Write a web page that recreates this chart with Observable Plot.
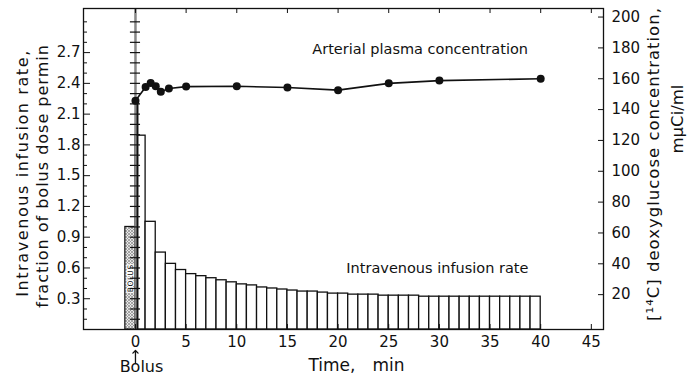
<!DOCTYPE html>
<html><head><meta charset="utf-8">
<script src="https://cdn.jsdelivr.net/npm/d3@7"></script>
<script src="https://cdn.jsdelivr.net/npm/@observablehq/plot@0.6"></script>
<style>
body{margin:0;background:#fff;}
svg text{font-family:"DejaVu Sans",sans-serif;}
</style></head><body><div id="chart"></div>
<script>
// ---- data ----
const barStart = [0,1,2,3,4,5,6,7,8,9,10,11,12,13,14,15,16,17,18,19,20,21,22,23,24,25,26,27,28,29,30,31,32,33,34,35,36,37,38,39];
const infusionRate = [1.89,1.05,0.75,0.64,0.58,0.54,0.52,0.50,0.48,0.46,0.44,0.43,0.41,0.40,0.39,0.38,0.37,0.37,0.36,0.35,0.35,0.34,0.34,0.34,0.33,0.33,0.33,0.33,0.32,0.32,0.32,0.32,0.32,0.32,0.32,0.32,0.32,0.32,0.32,0.32];
const bolusStart = [-1];
const bolusEnd = [0];
const bolusValue = [1.0];
const plasmaTime = [0,1,1.5,2,2.5,3.3,5,10,15,20,25,30,40];
const plasmaConc = [145.7,154.7,157.2,155.1,151.5,153.7,154.9,155.1,154.3,152.6,157.0,158.8,160.0];
const xTicks = [0,5,10,15,20,25,30,35,40,45];
const leftTicks = [0.3,0.6,0.9,1.2,1.5,1.8,2.1,2.4,2.7];
const leftMinor = [0.1,0.2,0.4,0.5,0.7,0.8,1.0,1.1,1.3,1.4,1.6,1.7,1.9,2.0,2.2,2.3,2.5,2.6,2.8,2.9,3.0];
const rulerTicks = [0.1,0.2,0.3,0.4,0.5,0.6,0.7,0.8,0.9,1.0,1.1,1.2,1.3,1.4,1.5,1.6,1.7,1.8,1.9,2.0,2.1,2.2,2.3,2.4,2.5,2.6,2.7,2.8,2.9,3.0];
const rightTicks = [20,40,60,80,100,120,140,160,180,200];
const noteText = ["Arterial plasma concentration","Intravenous infusion rate"];
const noteX = [28.1, 29.8];
const noteY = [2.73, 0.594];
const titleLeft1 = "Intravenous infusion rate,";
const titleLeft2 = "fraction of bolus dose permin";
const titleRight1 = "[\u00B9\u2074C] deoxyglucose concentration,";
const titleRight2 = "m\u03BCCi/ml";
const titleX = "Time,\u2003min";

// right axis (concentration) expressed in left-axis units
const k = 66.5, off = 2.6;
const toLeft = v => (v + off) / k;
const fromLeft = y => Math.round(y * k - off);

const bars = barStart.map((s,i)=>({start:s, end:s+1, rate:infusionRate[i]}));
const bolus = bolusStart.map((s,i)=>({start:s, end:bolusEnd[i], value:bolusValue[i]}));
const plasma = plasmaTime.map((t,i)=>({t, c:plasmaConc[i]}));
const notes = noteText.map((s,i)=>({s, x:noteX[i], y:noteY[i]}));

const W=687, H=384, mL=83, mR=84, mT=8, mB=55;
const fw = W-mL-mR, fh = H-mT-mB;
const ink = "#111";

const plot = Plot.plot({
  width:W, height:H, marginLeft:mL, marginRight:mR, marginTop:mT, marginBottom:mB,
  x:{domain:[-5.13,46.2]},
  y:{domain:[0,3.13]},
  style:{fontFamily:"DejaVu Sans, sans-serif", fontSize:"15px", color:ink, background:"white"},
  marks:[
    Plot.rectY(bolus, {x1:"start", x2:"end", y:"value", fill:"url(#hatch)", stroke:ink, strokeWidth:1.2}),
    Plot.text(bolus, {x:d=>(d.start+d.end)/2, y:d=>d.value/2, text:()=>"BOLUS", rotate:-90, fontSize:7.5, fill:ink, stroke:"white", strokeWidth:2.5}),
    Plot.rectY(bars, {x1:"start", x2:"end", y:"rate", fill:"white", stroke:ink, strokeWidth:1.3}),
    // ruler at time zero
    Plot.ruleX([0], {stroke:"#888", strokeWidth:2.5}),
    Plot.ruleY(rulerTicks, {y:d=>d, x1:()=>-0.5, x2:()=>0.5, stroke:ink, strokeWidth:1.2}),
    Plot.ruleX([plasma[0]], {x:"t", y1:()=>0, y2:d=>toLeft(d.c), stroke:ink, strokeWidth:2, dx:2}),
    Plot.line(plasma, {x:"t", y:d=>toLeft(d.c), stroke:ink, strokeWidth:1.6}),
    Plot.dot(plasma, {x:"t", y:d=>toLeft(d.c), r:4, fill:ink}),
    // annotations
    Plot.text(notes, {x:"x", y:"y", text:"s", fontSize:14.5, fill:ink}),
    // bottom axis
    Plot.axisX(xTicks, {anchor:"bottom", tickSize:0, tickPadding:7, fontSize:15, label:null}),
    Plot.tickX(xTicks, {x:d=>d, insetTop:fh-5, stroke:ink}),
    Plot.tickX(xTicks, {x:d=>d, insetBottom:fh-5, stroke:ink}),
    // left axis
    Plot.axisY(leftTicks, {anchor:"left", tickSize:0, tickPadding:3, fontSize:15, tickFormat:d=>d.toFixed(1), label:null}),
    Plot.tickY(leftTicks, {y:d=>d, insetRight:fw-7, stroke:ink}),
    Plot.tickY(leftMinor, {y:d=>d, insetRight:fw-4, stroke:ink}),
    // right axis
    Plot.axisY(rightTicks.map(toLeft), {anchor:"right", tickSize:0, tickPadding:8, fontSize:15, tickFormat:fromLeft, label:null}),
    Plot.tickY(rightTicks.map(toLeft), {y:d=>d, insetLeft:fw-5, stroke:ink}),
    Plot.frame({stroke:ink, strokeWidth:1.3}),
    // axis titles
    Plot.text([titleLeft1], {frameAnchor:"left", textAnchor:"middle", dx:-61, dy:4, rotate:-90, fontSize:16, fill:ink}),
    Plot.text([titleLeft2], {frameAnchor:"left", textAnchor:"middle", dx:-41, dy:7, rotate:-90, fontSize:16, fill:ink}),
    Plot.text([titleRight1], {frameAnchor:"right", textAnchor:"middle", dx:50, dy:-5, rotate:-90, fontSize:16.5, fill:ink}),
    Plot.text([titleRight2], {frameAnchor:"right", textAnchor:"middle", dx:74, dy:-50, rotate:-90, fontSize:16.5, fill:ink}),
    Plot.text([titleX], {frameAnchor:"bottom", dx:13, dy:41, fontSize:17, fill:ink}),
    Plot.text([0], {x:d=>d, frameAnchor:"bottom", text:()=>"Bolus", dx:6, dy:42, fontSize:16, fill:ink}),
    Plot.vector([0], {x:d=>d, frameAnchor:"bottom", length:13, rotate:0, anchor:"start", dy:34, stroke:ink, strokeWidth:1.3})
  ]
});

const svg = d3.select(plot);
const spacing = new Map([[titleLeft1,"1.6px"],[titleLeft2,"1.0px"],[titleRight1,"1.0px"],["BOLUS","0.6px"]]);
svg.selectAll("text").each(function(){
  const s = spacing.get(this.textContent);
  if (s) this.style.letterSpacing = s;
});
const defs = svg.insert("defs", ":first-child");
const pat = defs.append("pattern").attr("id","hatch").attr("patternUnits","userSpaceOnUse").attr("width",3).attr("height",3);
pat.append("rect").attr("width",3).attr("height",3).attr("fill","#e6e6e6");
pat.append("path").attr("d","M0,0L3,3M3,0L0,3").attr("stroke","#8a8a8a").attr("stroke-width",0.7);
document.getElementById("chart").appendChild(plot);
</script></body></html>
